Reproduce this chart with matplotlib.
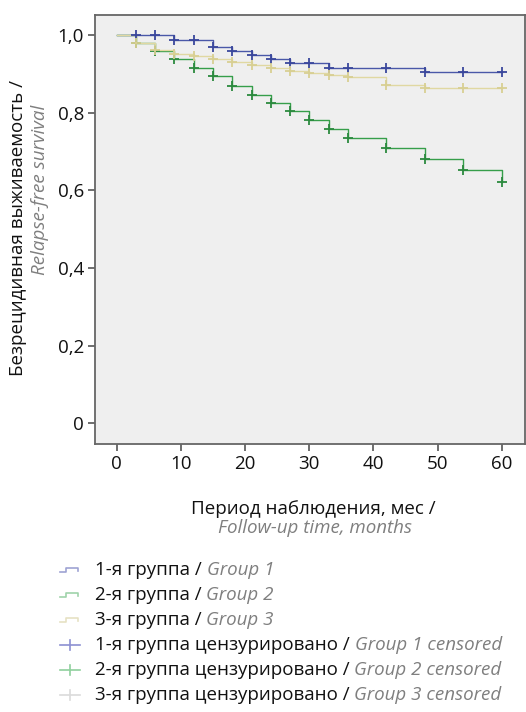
import numpy as np
import matplotlib
matplotlib.use("Agg")
import matplotlib.pyplot as plt
from matplotlib.lines import Line2D

plt.rcParams['font.family'] = ['Open Sans', 'DejaVu Sans']

# --- данные ---
visits = [3, 6, 9, 12, 15, 18, 21, 24, 27, 30, 33, 36, 42, 48, 54, 60]

t_g1 = [0, 9, 15, 18, 21, 24, 27, 33, 48, 60]
s_g1 = [1.0, 0.986, 0.968, 0.958, 0.948, 0.938, 0.927, 0.916, 0.904, 0.904]

t_g2 = [0, 3, 6, 9, 12, 15, 18, 21, 24, 27, 30, 33, 36, 42, 48, 54, 60]
s_g2 = [1.0, 0.980, 0.959, 0.937, 0.916, 0.894, 0.869, 0.845, 0.826, 0.804,
        0.781, 0.757, 0.734, 0.708, 0.680, 0.652, 0.622]

t_g3 = [0, 3, 6, 9, 12, 15, 18, 21, 24, 27, 30, 33, 36, 42, 48, 60]
s_g3 = [1.0, 0.980, 0.962, 0.952, 0.945, 0.937, 0.930, 0.922, 0.914, 0.906,
        0.901, 0.897, 0.891, 0.871, 0.863, 0.863]

cens_g1 = visits
cens_g2 = visits
cens_g3 = visits

y_ticks = [0, 0.2, 0.4, 0.6, 0.8, 1.0]
y_ticklabels = ["0", "0,2", "0,4", "0,6", "0,8", "1,0"]
x_ticks = [0, 10, 20, 30, 40, 50, 60]

legend_ru = ["1-я группа /", "2-я группа /", "3-я группа /",
             "1-я группа цензурировано /", "2-я группа цензурировано /",
             "3-я группа цензурировано /"]
legend_en = ["Group 1", "Group 2", "Group 3",
             "Group 1 censored", "Group 2 censored", "Group 3 censored"]

line_colors = ["#4a58a8", "#369e4a", "#e0d8a2"]
mark_colors = ["#3a479c", "#2b8a3e", "#d8cf92"]
icon_colors = ["#9ea3d3", "#9fd3aa", "#e6e1c4", "#8c90d2", "#8fd09d", "#dadada"]

W, H = 526, 712
GRAY = "#7f7f7f"
FS = 13.5


def fx(px):
    return px / W


def fy(py):
    return 1 - py / H


def step_value(times, surv, t):
    # значение ступенчатой кривой в момент t
    i = np.searchsorted(times, t, side="right") - 1
    return surv[i]


fig = plt.figure(figsize=(W / 100, H / 100), dpi=100)
ax = fig.add_axes([fx(95), fy(444), fx(525) - fx(95), fy(15) - fy(444)])
ax.set_facecolor("#efefef")

groups = [(t_g1, s_g1, cens_g1), (t_g2, s_g2, cens_g2), (t_g3, s_g3, cens_g3)]
for k in [2, 1, 0]:
    t, s, c = groups[k]
    ax.step(t, s, where="post", color=line_colors[k], lw=1.0, zorder=2 + k)
    cy = [step_value(t, s, ct) for ct in c]
    ax.plot(c, cy, ls="none", marker="+", ms=7.5, mew=1.3,
            color=mark_colors[k], zorder=5 + k)

ax.set_xlim(-3.38, 63.6)
ax.set_ylim(-0.0533, 1.0515)
ax.set_yticks(y_ticks)
ax.set_yticklabels(y_ticklabels)
ax.set_xticks(x_ticks)
ax.tick_params(axis="both", labelsize=FS, colors="#555555", labelcolor="#111111",
               length=5, width=1.2, pad=3)

for sp in ax.spines.values():
    sp.set_color("#666666")
    sp.set_linewidth(1.3)

# подписи осей
fig.text(fx(313), fy(509), "Период наблюдения, мес /", ha="center", va="center",
         fontsize=FS, color="#111111")
fig.text(fx(315), fy(528), "Follow-up time, months", ha="center", va="center",
         fontsize=FS, color=GRAY, style="italic")
fig.text(fx(18), fy(228), "Безрецидивная выживаемость /", ha="center", va="center",
         fontsize=FS, color="#111111", rotation=90)
fig.text(fx(40), fy(190), "Relapse-free survival", ha="center", va="center",
         fontsize=FS, color=GRAY, style="italic", rotation=90)

# легенда
row_y = [570, 595, 620, 645, 670, 695]
for i in range(6):
    yc = row_y[i]
    if i < 3:
        xs = [60, 66, 66, 78, 78]
        ys = [yc + 2, yc + 2, yc - 2, yc - 2, yc + 1]
        fig.add_artist(Line2D([fx(v) for v in xs], [fy(v) for v in ys],
                              transform=fig.transFigure, color=icon_colors[i], lw=1.2))
    else:
        fig.add_artist(Line2D([fx(60), fx(80)], [fy(yc), fy(yc)],
                              transform=fig.transFigure, color=icon_colors[i], lw=1.2))
        fig.add_artist(Line2D([fx(70), fx(70)], [fy(yc - 5), fy(yc + 5)],
                              transform=fig.transFigure, color=icon_colors[i], lw=1.2))
    t1 = fig.text(fx(95), fy(yc), legend_ru[i], ha="left", va="center",
                  fontsize=FS, color="#111111")
    ax.annotate(legend_en[i], xy=(1, 0), xycoords=t1, xytext=(3.5, 0),
                textcoords="offset points", ha="left", va="bottom",
                fontsize=FS, color=GRAY, style="italic", annotation_clip=False)

fig.savefig("out.png", dpi=100)
